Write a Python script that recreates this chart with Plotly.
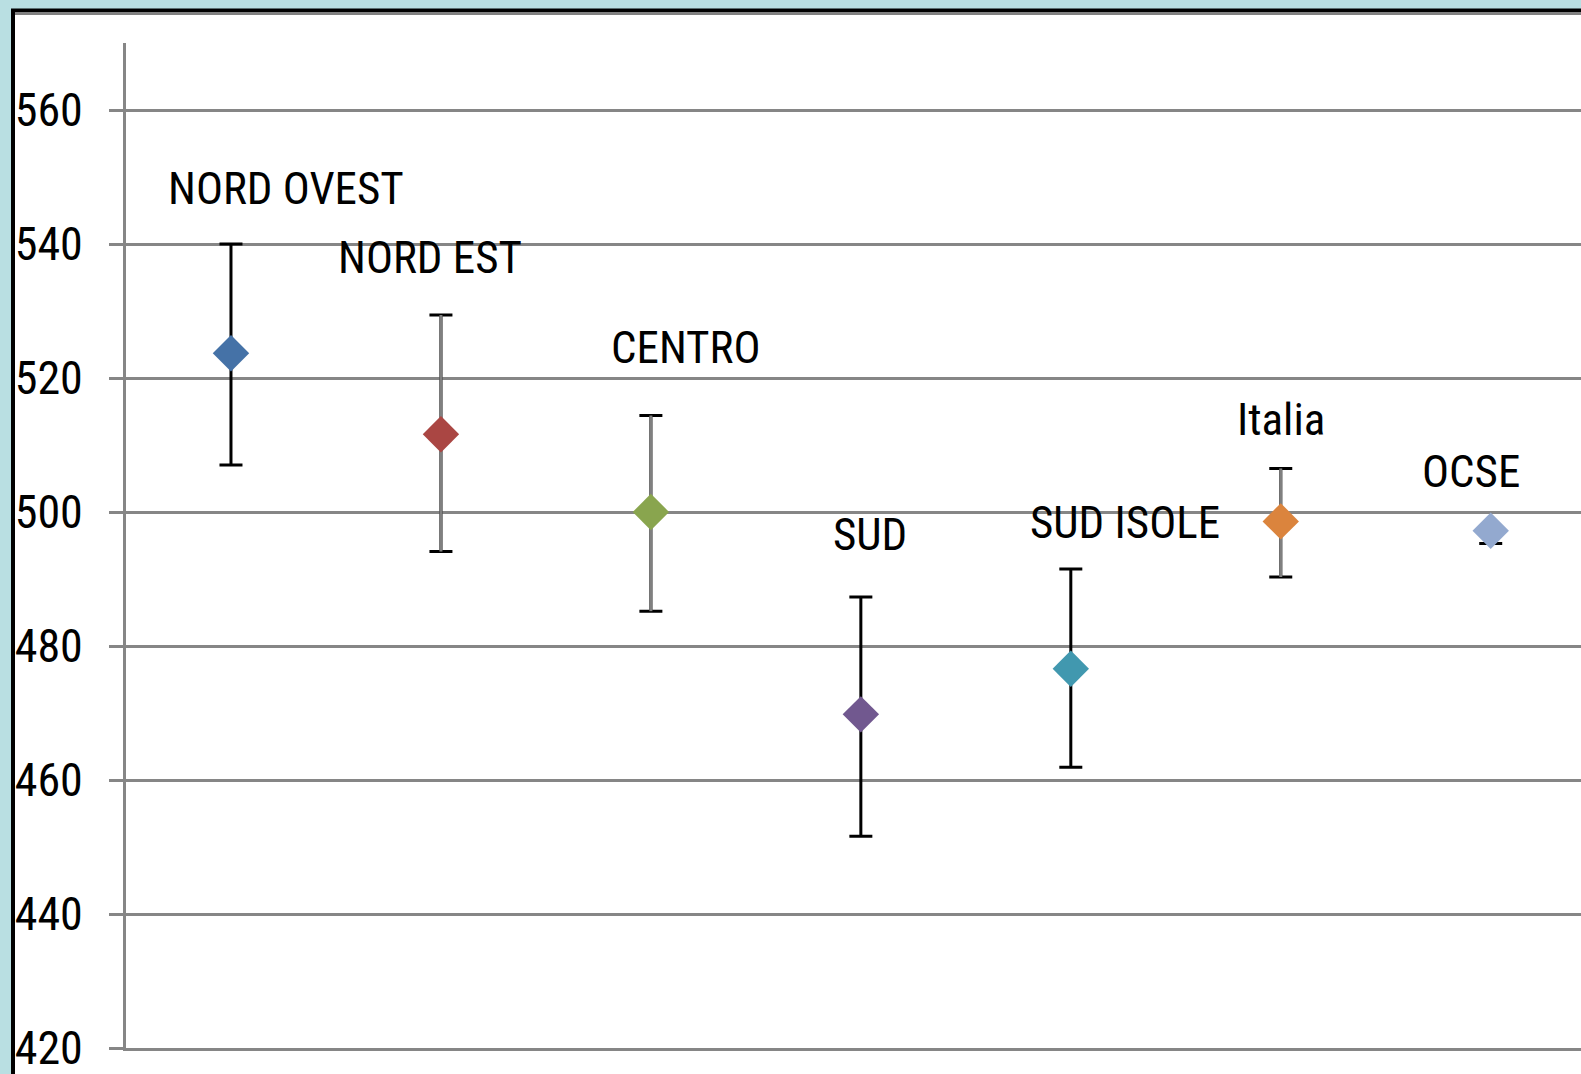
import plotly.graph_objects as go

# ---- data ----
regions = ["NORD OVEST", "NORD EST", "CENTRO", "SUD", "SUD ISOLE", "Italia", "OCSE"]
means = [523.7, 511.6, 500.0, 469.8, 476.6, 498.6, 497.2]
upper = [540.0, 529.4, 514.4, 487.3, 491.5, 506.5, 497.2]
lower = [507.0, 494.1, 485.2, 451.6, 461.9, 490.3, 495.3]
marker_colors = ["#4572A7", "#AA4643", "#89A54E", "#71588F", "#4198AF", "#DB843D", "#93A9CF"]
stem_colors = ["#000000", "#808080", "#808080", "#000000", "#000000", "#808080", "#000000"]
y_ticks = [420, 440, 460, 480, 500, 520, 540, 560]

# ---- layout constants ----
W, H = 1581, 1074
ML, MR, MT, MB = 126, 0, 43, 26
FONT = "Roboto Condensed, Sofia Sans Condensed, sans-serif"
label_shift = [(55, 165), (-11, 177), (35, 165), (9, 180), (54, 146), (0, 102), (-20, 59)]

def xp(px):
    return (px - ML) / (W - ML - MR)

def yp(py):
    return (H - MB - py) / (H - MT - MB)

fig = go.Figure()
x = list(range(len(regions)))

for i in x:
    up = upper[i] - means[i]
    dn = means[i] - lower[i]
    fig.add_trace(go.Scatter(
        x=[i], y=[means[i]], mode="markers",
        marker=dict(color="rgba(0,0,0,0)", size=2),
        error_y=dict(type="data", array=[up], arrayminus=[dn], color="#000000",
                     thickness=3, width=11.5),
        hoverinfo="skip", showlegend=False))
    if stem_colors[i] != "#000000":
        fig.add_trace(go.Scatter(
            x=[i], y=[means[i]], mode="markers",
            marker=dict(color="rgba(0,0,0,0)", size=2),
            error_y=dict(type="data", array=[up], arrayminus=[dn], color=stem_colors[i],
                         thickness=3, width=0),
            hoverinfo="skip", showlegend=False))

for i in x:
    fig.add_trace(go.Scatter(
        x=[i], y=[means[i]], mode="markers",
        marker=dict(symbol="diamond", size=28, color=marker_colors[i], line=dict(width=0)),
        name=regions[i], showlegend=False))
    dx, dy = label_shift[i]
    fig.add_annotation(x=i, y=means[i], text=regions[i], showarrow=False,
                       xshift=dx, yshift=dy, xanchor="center", yanchor="middle",
                       font=dict(family=FONT, size=45, color="#000000"))

# frame
fig.add_shape(type="rect", xref="paper", yref="paper", x0=xp(13), x1=xp(W + 50), y0=yp(10.5), y1=yp(H + 50),
              fillcolor="white", line=dict(color="black", width=4), layer="below")
fig.add_shape(type="line", xref="paper", yref="paper", x0=xp(15), x1=xp(W + 50), y0=yp(13.5), y1=yp(13.5),
              line=dict(color="#808080", width=3), layer="below")

fig.update_layout(
    width=W, height=H,
    margin=dict(l=ML, r=MR, t=MT, b=MB, autoexpand=False),
    paper_bgcolor="#B9DFE2",
    plot_bgcolor="rgba(0,0,0,0)",
    xaxis=dict(range=[-0.5, 6.43], showgrid=False, zeroline=False, showticklabels=False,
               showline=True, linecolor="#868686", linewidth=3, ticks="", automargin=False),
    yaxis=dict(range=[420, 570], tickmode="array", tickvals=y_ticks, ticktext=[str(v) for v in y_ticks],
               showgrid=True, gridcolor="#868686", gridwidth=3, zeroline=False,
               showline=True, linecolor="#868686", linewidth=3, automargin=False,
               ticks="outside", ticklen=14, tickwidth=3, tickcolor="#868686",
               ticklabelstandoff=17, ticklabeloverflow="allow",
               tickfont=dict(family=FONT, size=46, color="#000000")),
)

fig.write_html("out.html", config={"displayModeBar": False},
               post_script="document.body.style.margin='0';document.body.style.overflow='hidden';")
